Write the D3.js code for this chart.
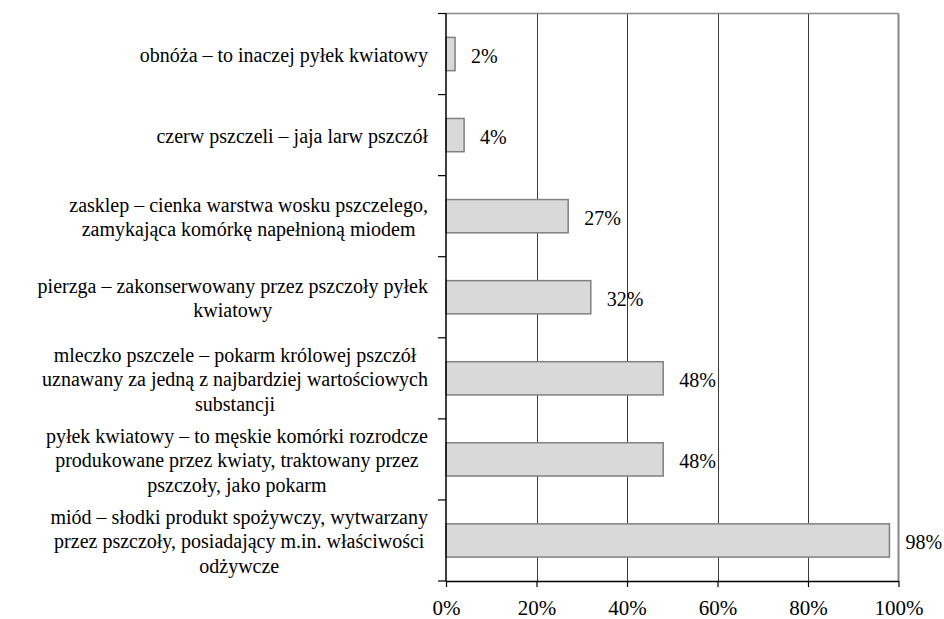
<!DOCTYPE html>
<html><head><meta charset="utf-8">
<script src="https://cdn.jsdelivr.net/npm/d3@7"></script>
</head><body style="margin:0">
<svg id="c" width="944" height="619"></svg>
<script>
const categories = [
  ["obnóża – to inaczej pyłek kwiatowy"],
  ["czerw pszczeli – jaja larw pszczół"],
  ["zasklep – cienka warstwa wosku pszczelego,", "zamykająca komórkę napełnioną miodem"],
  ["pierzga – zakonserwowany przez pszczoły pyłek", "kwiatowy"],
  ["mleczko pszczele – pokarm królowej pszczół", "uznawany za jedną z najbardziej wartościowych", "substancji"],
  ["pyłek kwiatowy – to męskie komórki rozrodcze", "produkowane przez kwiaty, traktowany przez", "pszczoły, jako pokarm"],
  ["miód – słodki produkt spożywczy, wytwarzany", "przez pszczoły, posiadający m.in. właściwości", "odżywcze"]
];
const values = [2, 4, 27, 32, 48, 48, 98];
const tickValues = [0, 20, 40, 60, 80, 100];

const FF = "Liberation Serif";
function serif(sel, size) {
  return sel.style("font-family", FF, "important").style("font-size", size + "px", "important")
    .style("font-weight", "normal", "important");
}

const svg = d3.select("#c").style("display", "block");
const L = 446, R = 898.5, T = 13.5, B = 581;
const x = d3.scaleLinear().domain([0, 100]).range([L, R]);
const y = d3.scaleBand().domain(d3.range(categories.length)).range([T, B]).paddingInner(0.59).paddingOuter(0.295);
const band = d3.scaleBand().domain(d3.range(categories.length)).range([T, B]);

svg.append("g").selectAll("line").data(tickValues.slice(1, -1)).join("line")
  .attr("x1", d => Math.round(x(d)) + 0.5).attr("x2", d => Math.round(x(d)) + 0.5)
  .attr("y1", T).attr("y2", B).attr("stroke", "#3a3a3a").attr("stroke-width", 1);
svg.append("line").attr("x1", L).attr("x2", R).attr("y1", T).attr("y2", T).attr("stroke", "#888").attr("stroke-width", 1.5);
svg.append("line").attr("x1", R).attr("x2", R).attr("y1", T).attr("y2", B).attr("stroke", "#888").attr("stroke-width", 2);

svg.append("g").selectAll("rect").data(values).join("rect")
  .attr("x", L).attr("y", (d, i) => y(i))
  .attr("width", d => x(d) - L).attr("height", y.bandwidth())
  .attr("fill", "#d9d9d9").attr("stroke", "#808080").attr("stroke-width", 1.5);

serif(svg.append("g").selectAll("text").data(values).join("text")
  .attr("x", d => x(d) + 16).attr("y", (d, i) => band(i) + band.bandwidth() / 2 + 9)
  .attr("fill", "#000")
  .text(d => d + "%"), 20);

const yAxisTicks = d3.range(categories.length + 1).map(i => T + i * band.bandwidth());
svg.append("line").attr("x1", L).attr("x2", L).attr("y1", T).attr("y2", B).attr("stroke", "#000").attr("stroke-width", 1.5);
svg.append("g").selectAll("line").data(yAxisTicks).join("line")
  .attr("x1", L - 8).attr("x2", L).attr("y1", d => d).attr("y2", d => d).attr("stroke", "#000").attr("stroke-width", 1.2);

const xAxis = d3.axisBottom(x).tickValues(tickValues).tickFormat(d => d + "%").tickSize(6).tickSizeOuter(0);
const gx = svg.append("g").attr("transform", `translate(0,${B})`).call(xAxis);
gx.select(".domain").attr("stroke", "#000").attr("stroke-width", 1.5);
gx.selectAll(".tick line").attr("stroke", "#000").attr("stroke-width", 1.2);
serif(gx.selectAll(".tick text").attr("fill", "#000").attr("y", 34).attr("dy", 0), 21);

const lh = 24.2;
categories.forEach((lines, i) => {
  const cy = band(i) + band.bandwidth() / 2;
  const t = serif(svg.append("text").attr("text-anchor", "middle").attr("fill", "#000"), 20);
  lines.forEach((ln, k) => {
    t.append("tspan").attr("y", cy + (k - (lines.length - 1) / 2) * lh + 8).text(ln);
  });
  let maxW = 0;
  t.selectAll("tspan").each(function(){ maxW = Math.max(maxW, this.getComputedTextLength()); });
  t.selectAll("tspan").attr("x", 428 - maxW / 2);
});
</script>
</body></html>
